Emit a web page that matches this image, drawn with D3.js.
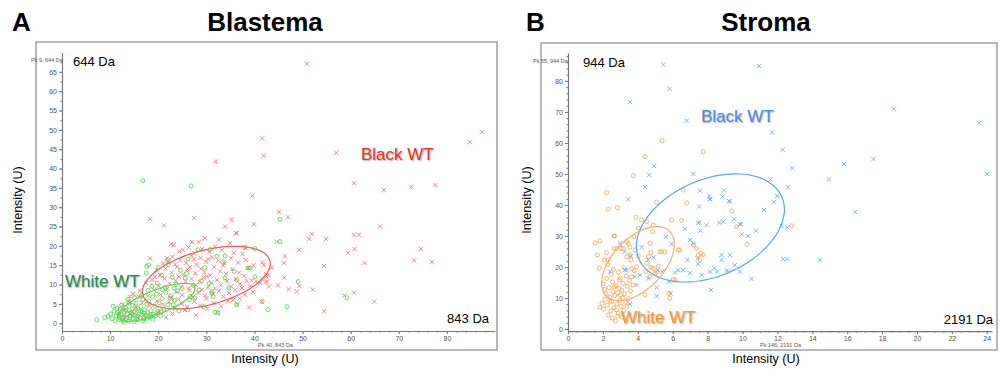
<!DOCTYPE html>
<html>
<head>
<meta charset="utf-8">
<script src="https://cdn.jsdelivr.net/npm/d3@7"></script>
<style>
  body { margin: 0; background: #fff; }
  text { font-family: "Liberation Sans", Arial, sans-serif; }
</style>
</head>
<body>
<svg id="chart" width="1000" height="377"></svg>
<script>
// ---- data (intensity in U) ----
const blastemaBlack = [
  [50.9,67.1],[41.6,47.8],[41.9,43.3],[31.9,41.8],[39.6,33.0],[57.0,44.1],[84.8,46.8],[87.3,49.4],
  [60.7,36.2],[66.9,34.4],[72.6,35.3],[77.6,35.7],[45.1,28.8],[47.0,27.4],[39.9,25.6],[66.1,25.0],
  [51.9,23.1],[51.4,21.8],[54.9,21.8],[60.7,22.9],[61.7,22.9],[49.3,19.0],[60.8,19.2],[59.4,18.2],
  [74.6,19.2],[46.3,17.4],[46.1,15.6],[62.9,15.6],[73.2,16.3],[76.9,15.8],[54.5,14.8],[43.6,14.4],
  [41.6,15.7],[42.4,12.7],[41.5,11.6],[46.2,11.8],[42.3,10.6],[43.0,9.5],[44.9,9.8],[47.1,8.8],
  [49.3,9.7],[52.1,8.7],[48.8,8.2],[58.7,7.2],[60.7,7.9],[64.9,5.6],[54.5,3.1],[18.3,27.0],
  [21.2,25.3],[27.5,27.2],[33.9,25.0],[35.2,26.8],[36.2,23.3],[18.3,16.8],[42.5,12.1],[42.6,10.8],
  [41.9,15.1],[42.9,12.5],[41.2,10.4],[37.4,9.1],[35.6,6.1],[41.5,5.6],[39.4,11.1],[44.6,21.1],
  [29.7,22.0],[27.0,21.0],[28.4,21.0],[32.6,21.6],[34.9,20.7],[22.7,20.5],[23.2,20.2],[25.1,19.0],
  [27.6,18.1],[21.8,16.8],[22.1,16.0],[23.5,15.2],[20.4,12.5],[19.3,12.0],[15.9,6.9],[14.1,6.9],
  [36.3,23.3],[38.1,19.5],
  [24.4,18.6],[26.3,19.6],[29.1,19.2],[30.6,18.4],[31.8,19.8],[33.2,18.9],[35.7,18.2],[26.9,17.6],[28.8,16.9],
  [21.0,15.4],[22.9,17.2],[24.6,16.3],[25.8,15.6],[27.4,16.5],[29.9,15.9],[31.2,17.0],[32.5,16.2],
  [33.8,15.5],[35.1,16.8],[36.6,15.7],[38.2,16.4],[37.5,17.9],[39.8,15.0],[30.4,16.6],[28.0,15.2],[26.6,14.5],
  [19.6,13.8],[21.5,14.2],[22.8,13.1],[23.9,14.6],[25.2,12.6],[26.1,13.9],[27.7,12.9],[28.9,14.1],
  [29.6,13.2],[30.8,12.4],[31.6,14.5],[32.9,13.4],[34.1,12.8],[35.4,14.0],[36.8,13.1],[37.9,12.2],
  [38.7,14.3],[33.5,14.9],[24.3,12.0],[30.1,12.1],
  [17.5,10.4],[18.8,11.2],[20.1,9.6],[21.3,11.6],[22.4,10.2],[23.6,11.0],[24.8,9.4],[25.7,10.8],
  [26.9,11.5],[27.8,9.9],[28.6,10.7],[29.4,11.8],[30.3,9.3],[31.1,10.5],[32.2,11.2],[33.0,9.8],
  [34.3,10.9],[35.2,9.5],[36.1,11.4],[37.0,10.2],[38.4,11.0],[39.2,9.6],[40.3,10.8],[26.3,9.1],[31.8,9.0],
  [14.8,7.6],[16.2,8.4],[17.9,7.1],[19.1,8.6],[20.5,7.4],[21.9,8.9],[22.7,6.6],[23.8,8.1],
  [25.0,7.3],[26.4,8.5],[27.2,6.8],[28.3,7.9],[29.1,8.7],[30.0,6.5],[31.4,7.6],[32.6,8.3],
  [33.6,6.9],[34.7,7.8],[36.0,8.6],[36.9,6.4],[38.0,7.4],[39.7,8.1],[24.2,6.2],[29.7,7.2],
  [12.6,4.8],[13.9,5.6],[15.4,4.2],[16.6,5.3],[18.2,4.5],[19.7,5.8],[21.0,4.9],[22.3,5.5],
  [23.5,3.9],[24.9,5.0],[26.0,4.3],[27.5,5.6],[28.7,4.6],[30.2,3.8],[31.5,5.2],[33.1,4.4],
  [34.5,5.7],[36.4,4.9],[38.9,4.1],[20.1,3.2],[25.6,3.4],
  [11.9,2.4],[13.2,1.6],[14.5,2.9],[15.8,1.3],[17.0,2.2],[18.6,1.8],[19.9,2.7],[21.6,1.5],
  [23.0,2.5],[27.9,2.1],[32.3,2.8],[12.8,3.5]
];
const blastemaWhite = [
  [16.8,36.9],[26.8,35.5],[45.3,26.9],[45.3,21.1],[49.1,10.8],[59.2,6.6],[41.6,5.6],[42.8,3.5],
  [46.8,4.3],[18.0,15.1],[17.5,13.0],[7.2,0.9],[8.9,1.5],[17.6,14.7],[20.0,14.4],[22.1,15.2],
  [28.3,19.0],[38.0,19.6],[40.1,19.3],[39.1,14.3],[40.1,12.0],[36.3,4.8],[31.8,2.9],[32.4,2.7],
  [31.1,8.2],[29.7,14.4],[25.6,11.7],[25.0,9.0],[26.6,6.9],[23.1,4.8],[27.6,6.5],[32.2,17.3],
  [29.0,11.0],[31.4,6.9],[22.0,16.4],[33.9,17.4],[33.9,11.7],[36.3,11.2],[31.1,7.8],[38.7,14.3],
  [26.5,6.1],[26.1,3.5],[29.4,4.3],[23.3,9.1],[22.5,6.5],[20.9,8.7],
  [9.6,1.8],[10.1,2.4],[10.4,1.2],[10.8,3.1],[11.0,0.6],[11.3,1.9],[11.6,2.8],[11.9,1.0],
  [12.1,3.6],[12.3,2.2],[12.6,0.8],[12.8,1.6],[13.0,2.9],[13.2,4.1],[13.4,1.3],[13.6,2.5],
  [13.8,0.5],[14.0,3.4],[14.2,1.9],[14.4,2.7],[14.6,4.6],[14.8,1.1],[15.0,3.0],[15.2,2.1],
  [15.4,5.2],[15.6,0.9],[15.8,3.8],[16.0,2.4],[16.2,1.5],[16.4,4.3],[16.6,2.9],[16.8,6.1],
  [17.0,1.2],[17.2,3.5],[17.4,2.0],[17.6,4.9],[17.8,2.7],[18.0,5.7],[18.2,1.6],[18.5,3.2],
  [18.8,6.8],[19.0,2.3],[19.3,4.4],[19.6,7.5],[19.9,3.0],[20.2,5.3],[20.5,1.9],[20.8,6.4],
  [21.2,3.7],[21.6,8.0],[22.0,4.8],[22.6,7.1],[23.4,5.9],[24.3,3.2],[24.0,8.4],[12.4,4.7],
  [13.9,5.4],[15.1,6.6],[16.5,7.2],[11.5,3.9],[10.6,4.4],[12.9,0.3],[14.9,0.4],[16.9,0.7],
  [18.9,1.0],[13.3,3.3],[14.7,2.3],[15.7,1.8],[17.1,2.6],[18.4,2.1],[11.8,2.3],[12.5,1.4],
  [14.1,1.5],[15.3,3.6],[16.3,3.1],[17.7,1.3],[19.5,2.0],[20.6,2.9],[13.7,6.2],[17.9,8.5],
  [18.7,9.6],[19.8,10.4],[21.4,9.3],[23.7,10.1],[25.9,12.9],[27.3,9.8],[28.5,8.6],[30.6,10.3],
  [34.7,9.1],[35.8,13.4],[33.4,15.9],[24.6,13.7],[22.9,11.9],[20.7,12.4],[26.2,16.6],[30.8,19.1]
];
const stromaBlack = [
  [5.46,85.3],[5.82,77.5],[3.55,73.2],[6.80,67.2],[4.93,52.6],[4.66,49.7],[7.18,50.0],[4.41,45.8],
  [7.56,44.6],[8.93,44.7],[3.46,41.8],[8.13,41.8],[8.15,41.9],[8.86,42.7],[10.94,84.8],[18.67,71.0],
  [23.56,66.5],[11.70,63.4],[12.30,57.8],[12.85,51.9],[15.83,53.2],[17.51,54.8],[14.95,48.2],[24.02,50.0],
  [11.61,48.2],[12.62,45.7],[11.99,42.9],[11.80,40.9],[11.23,38.4],[16.46,37.7],[12.24,33.3],[12.58,32.7],
  [10.77,31.7],[12.33,22.5],[12.58,22.6],[14.43,22.3],[10.52,16.2],[9.22,41.3],[7.52,34.4],[7.94,33.5],
  [8.67,34.3],[6.70,32.3],[7.60,31.7],[9.53,35.5],[9.91,33.8],[9.95,30.5],[10.33,30.0],[5.61,29.6],
  [6.99,28.7],[7.18,27.6],[4.22,26.4],[2.98,27.6],[8.80,23.9],[9.28,23.9],[8.80,22.3],[7.43,22.8],
  [6.85,22.3],[4.89,23.1],[4.60,22.3],[3.61,23.5],[3.26,19.0],[5.14,19.0],[5.40,18.5],[6.32,19.0],
  [7.46,21.0],[8.38,19.6],[8.15,18.5],[9.56,20.6],[9.22,18.5],[6.99,18.0],[4.12,17.4],[4.60,16.3],
  [3.93,14.2],[5.08,13.4],[5.08,10.6],[5.80,15.3],[8.19,12.6],[3.55,8.1],[2.41,18.5],[3.23,24.9],
  [3.36,19.0],[3.84,16.9],[5.88,11.5],[6.13,18.2],[7.66,17.4],[5.94,27.4],[7.46,34.1],[7.52,39.5],
  [8.09,42.9],[9.28,41.1],[9.85,33.8],[8.90,34.6],[9.85,18.5],[8.55,18.5],[9.09,18.8],[6.60,19.0]
];
const stromaWhite = [
  [2.21,44.0],[3.74,49.5],[4.41,55.6],[5.40,60.7],[7.75,57.2],[6.60,44.8],[12.81,33.3],[2.31,38.6],
  [2.83,39.1],[1.55,27.8],[1.83,28.4],[1.68,23.9],[1.79,19.6],[2.08,22.3],[2.63,30.0],[2.83,26.0],
  [3.17,26.0],[3.45,27.6],[3.55,23.9],[3.78,29.8],[4.03,32.5],[3.89,36.0],[4.22,35.2],[4.51,34.6],
  [4.89,33.5],[5.08,40.9],[4.85,31.4],[4.70,27.6],[5.36,24.9],[5.55,24.9],[4.60,23.3],[3.93,20.1],
  [3.65,19.5],[4.85,19.6],[5.08,18.5],[5.94,35.2],[6.51,35.0],[6.32,25.5],[6.13,15.8],[5.84,9.9],
  [6.80,40.7],[7.37,26.0],[7.46,23.9],[7.56,22.3],[7.75,24.0],[9.37,38.1],[9.66,33.0],[10.27,27.3],
  [2.69,30.0],[2.21,24.6],[2.31,22.3],[2.65,26.0],[3.04,26.0],[3.36,28.2],[3.55,26.4],[3.36,23.3],
  [3.61,22.3],[3.84,25.5],[4.03,23.5],[4.75,24.7],[5.27,24.9],[5.17,20.3],[4.51,21.2],[6.41,25.5],
  [7.18,27.1],[7.62,24.4],[4.75,19.9],[4.45,18.5],[4.98,18.0],[4.70,16.9],[6.03,16.0],[4.41,11.0],
  [5.78,11.5],
  [1.82,7.0],[1.95,8.3],[2.05,6.4],[2.12,9.6],[2.18,11.2],[2.24,7.7],[2.30,4.5],[2.36,13.4],
  [2.40,10.3],[2.45,5.8],[2.50,8.9],[2.55,15.2],[2.58,12.1],[2.63,6.9],[2.68,10.8],[2.72,2.6],
  [2.75,14.0],[2.80,8.1],[2.84,11.7],[2.88,5.1],[2.92,13.1],[2.96,9.2],[3.00,16.4],[3.04,7.3],
  [3.08,12.6],[3.12,10.1],[3.16,14.7],[3.20,6.0],[3.25,11.4],[3.30,8.6],[3.35,17.1],[3.40,13.8],
  [3.46,9.8],[3.52,15.6],[3.58,12.3],[3.65,16.8],[3.72,14.2],[3.80,18.8],[2.10,12.8],[2.22,16.3],
  [2.48,17.6],[2.60,19.2],[2.28,20.8],[2.90,18.3],[3.22,19.8],[2.02,14.6],[2.54,3.5],[2.85,4.2],
  [3.10,3.8],[2.40,9.0],[2.78,6.2],[3.02,10.9],[3.38,7.4],[2.66,13.6],[2.94,15.8]
];

// confidence ellipses: [cx, cy, major half-vector x, y, minor half-vector x, y]
const blastemaBlackEllipse = [30.0, 11.8, 13.2, 4.4, 1.5, -6.8];
const blastemaWhiteEllipse = [19.6, 5.4, 8.0, 4.0, 0.94, -2.87];
const stromaBlackEllipse = [8.16, 32.6, 4.10, 9.97, 1.09, -14.3];
const stromaWhiteEllipse = [4.01, 21.1, 1.80, 10.5, 1.05, -5.7];

// axis ticks
const blastemaXTicks = [0, 10, 20, 30, 40, 50, 60, 70, 80];
const blastemaYTicks = [0, 5, 10, 15, 20, 25, 30, 35, 40, 45, 50, 55, 60, 65];
const stromaXTicks = [0, 2, 4, 6, 8, 10, 12, 14, 16, 18, 20, 22, 24];
const stromaYTicks = [0, 10, 20, 30, 40, 50, 60, 70, 80];

const svg = d3.select("#chart");

function drawPanel(p) {
  const g = svg.append("g");

  // outer frame
  g.append("rect")
    .attr("x", p.frame[0]).attr("y", p.frame[1])
    .attr("width", p.frame[2]).attr("height", p.frame[3])
    .attr("fill", "none").attr("stroke", "#a0a0a0").attr("stroke-width", 1.5);

  const x = d3.scaleLinear().domain(p.xDomain).range(p.xRange);
  const y = d3.scaleLinear().domain(p.yDomain).range(p.yRange);

  // minor ticks
  g.append("g").attr("transform", `translate(0,${p.yRange[0]})`)
    .call(d3.axisBottom(x).tickValues(d3.range(p.xDomain[0], p.xDomain[1], p.xMinor)).tickSize(1.5).tickFormat(""))
    .call(a => a.select(".domain").remove());
  g.append("g").attr("transform", `translate(${p.xRange[0]},0)`)
    .call(d3.axisLeft(y).tickValues(d3.range(0, p.yDomain[1], p.yMinor)).tickSize(1.5).tickFormat(""))
    .call(a => a.select(".domain").remove());

  // major axes
  const xa = g.append("g").attr("transform", `translate(0,${p.yRange[0]})`)
    .call(d3.axisBottom(x).tickValues(p.xTicks).tickSize(3).tickSizeOuter(0).tickPadding(2));
  const ya = g.append("g").attr("transform", `translate(${p.xRange[0]},0)`)
    .call(d3.axisLeft(y).tickValues(p.yTicks).tickSize(3).tickSizeOuter(0).tickPadding(2));
  [xa, ya].forEach(a => {
    a.selectAll("text").attr("font-size", 7).attr("fill", "#555")
      .style("font-family", "'Liberation Sans', Arial, sans-serif");
    a.select(".domain").attr("stroke", "#777").attr("stroke-width", 1.2);
  });
  g.selectAll("line").attr("stroke", "#777");

  // ellipses
  const ellipsePath = e => {
    const pts = d3.range(0, 2 * Math.PI, Math.PI / 60).map(t =>
      [x(e[0] + e[2] * Math.cos(t) + e[4] * Math.sin(t)),
       y(e[1] + e[3] * Math.cos(t) + e[5] * Math.sin(t))]);
    return d3.line().curve(d3.curveLinearClosed)(pts);
  };

  // white group: circles
  g.append("g").selectAll("circle").data(p.white).join("circle")
    .attr("cx", d => x(d[0])).attr("cy", d => y(d[1])).attr("r", 2)
    .attr("fill", "none").attr("stroke", p.whiteColor).attr("stroke-width", 1).attr("opacity", 0.85);

  // black group: crosses
  const s = 2.1;
  g.append("g").selectAll("path").data(p.black).join("path")
    .attr("d", d => {
      const cx = x(d[0]), cy = y(d[1]);
      return `M${cx - s},${cy - s}L${cx + s},${cy + s}M${cx - s},${cy + s}L${cx + s},${cy - s}`;
    })
    .attr("stroke", p.blackColor).attr("stroke-width", 1).attr("opacity", 0.8);

  g.append("path").attr("d", ellipsePath(p.blackEllipse))
    .attr("fill", "none").attr("stroke", p.blackLine).attr("stroke-width", 1.2);
  g.append("path").attr("d", ellipsePath(p.whiteEllipse))
    .attr("fill", "none").attr("stroke", p.whiteLine).attr("stroke-width", 1.2);

  // texts
  svg.append("text").attr("x", p.letter[0]).attr("y", 31).text(p.letter[1])
    .attr("font-size", 26).attr("font-weight", "bold");
  svg.append("text").attr("x", p.titleX).attr("y", 31).attr("text-anchor", "middle").text(p.title)
    .attr("font-size", 26).attr("font-weight", "bold");
  svg.append("text").attr("x", p.titleX).attr("y", 363).attr("text-anchor", "middle")
    .attr("font-size", 12.5).text("Intensity (U)");
  svg.append("text").attr("transform", `translate(${p.yLabelX},200) rotate(-90)`)
    .attr("text-anchor", "middle").attr("font-size", 12.5).text("Intensity (U)");

  svg.append("text").attr("x", p.yPk[0]).attr("y", p.yPk[1]).attr("font-size", 5.5).attr("fill", "#555").text(p.yPk[2]);
  svg.append("text").attr("x", p.xPk[0]).attr("y", p.xPk[1]).attr("font-size", 5.5).attr("fill", "#555").text(p.xPk[2]);
  svg.append("text").attr("x", p.yDa[0]).attr("y", p.yDa[1]).attr("font-size", 13).text(p.yDa[2]);
  svg.append("text").attr("x", p.xDa[0]).attr("y", p.xDa[1]).attr("font-size", 13)
    .attr("text-anchor", "end").text(p.xDa[2]);

  p.groupLabels.forEach(l => {
    svg.append("text").attr("x", l[0]).attr("y", l[1]).attr("font-size", 17)
      .attr("fill", l[3]).style("text-shadow", "1px 1px 1.5px rgba(0,0,0,0.35)").text(l[2]);
  });
}

drawPanel({
  frame: [36, 42, 461, 308],
  xDomain: [0, 90], xRange: [62, 495],
  yDomain: [-2, 70], yRange: [331, 52.5],
  xTicks: blastemaXTicks, yTicks: blastemaYTicks, xMinor: 2, yMinor: 2.5,
  black: blastemaBlack, white: blastemaWhite,
  blackColor: "#f46a6a", whiteColor: "#4fdc4f",
  blackEllipse: blastemaBlackEllipse, whiteEllipse: blastemaWhiteEllipse,
  blackLine: "#ef5a5a", whiteLine: "#55d655",
  letter: [12, "A"], title: "Blastema", titleX: 265, yLabelX: 22,
  yPk: [31, 62, "Pk 9, 644 Da"], xPk: [258, 347, "Pk 40, 843 Da"],
  yDa: [73, 66, "644 Da"], xDa: [489, 323, "843 Da"],
  groupLabels: [[361, 160, "Black WT", "#e8321e"], [65, 287, "White WT", "#1e8c4e"]]
});

drawPanel({
  frame: [541, 43, 456, 307],
  xDomain: [0, 24.3], xRange: [568, 992],
  yDomain: [-0.7, 89], yRange: [331.2, 53],
  xTicks: stromaXTicks, yTicks: stromaYTicks, xMinor: 0.5, yMinor: 2,
  black: stromaBlack, white: stromaWhite,
  blackColor: "#5aa6f2", whiteColor: "#f6a85a",
  blackEllipse: stromaBlackEllipse, whiteEllipse: stromaWhiteEllipse,
  blackLine: "#5aa8f0", whiteLine: "#f5b070",
  letter: [526, "B"], title: "Stroma", titleX: 766, yLabelX: 531,
  yPk: [533, 63, "Pk 55, 944 Da"], xPk: [760, 347, "Pk 146, 2191 Da"],
  yDa: [583, 67, "944 Da"], xDa: [993, 324, "2191 Da"],
  groupLabels: [[701, 122, "Black WT", "#4a8ae6"], [621, 323, "White WT", "#f39a2a"]]
});
</script>
</body>
</html>
